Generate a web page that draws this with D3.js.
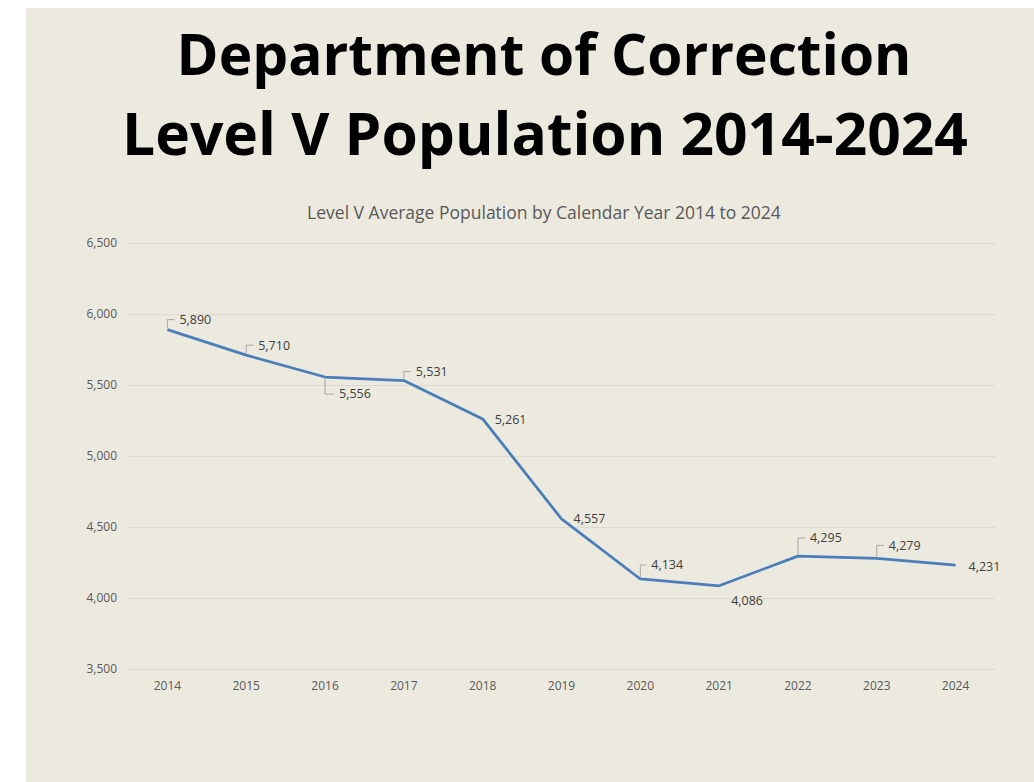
<!DOCTYPE html>
<html>
<head>
<meta charset="utf-8">
<script src="https://cdn.jsdelivr.net/npm/d3@7"></script>
<style>
  html, body { margin: 0; padding: 0; background: #fff; }
  svg { display: block; }
</style>
</head>
<body>
<svg width="1034" height="782"></svg>
<script>
// chart data
var years = ['2014', '2015', '2016', '2017', '2018', '2019', '2020', '2021', '2022', '2023', '2024'];
var population = [5890, 5710, 5556, 5531, 5261, 4557, 4134, 4086, 4295, 4279, 4231];
var yTicks = [3500, 4000, 4500, 5000, 5500, 6000, 6500];

// where each value label sits relative to its point, and whether it has a leader line
var labelPos = [
  {dx: 12, dy: -10, leader: 'up'},
  {dx: 12, dy: -10, leader: 'up'},
  {dx: 14, dy: 17, leader: 'down'},
  {dx: 12, dy: -9, leader: 'up'},
  {dx: 12, dy: 1, leader: null},
  {dx: 12, dy: 0, leader: null},
  {dx: 11, dy: -14, leader: 'up'},
  {dx: 12, dy: 15, leader: null},
  {dx: 12, dy: -18, leader: 'up'},
  {dx: 12, dy: -13, leader: 'up'},
  {dx: 13, dy: 1, leader: null}
];

var svg = d3.select('svg');
var fmt = d3.format(',');
var font = 'Open Sans, sans-serif';

svg.append('rect')
  .attr('x', 26)
  .attr('y', 8)
  .attr('width', 1034 - 26)
  .attr('height', 782 - 8)
  .attr('fill', '#ECE9DF');

// text sized to fit the width it has in the picture
function fitText(txt, cx, baseline, targetW, weight, color) {
  var t = svg.append('text')
    .attr('x', cx)
    .attr('y', baseline)
    .attr('text-anchor', 'middle')
    .attr('font-family', font)
    .attr('font-weight', weight)
    .attr('font-size', 60)
    .attr('fill', color)
    .text(txt);
  var w = t.node().getComputedTextLength();
  t.attr('font-size', 60 * targetW / w);
}
fitText('Department of Correction', 544, 75, 735, 700, '#000');
fitText('Level V Population 2014-2024', 545, 155, 846, 700, '#000');
fitText('Level V Average Population by Calendar Year 2014 to 2024', 544, 219, 474, 400, '#595959');

var x = d3.scaleBand()
  .domain(years)
  .range([128, 995]);

var y = d3.scaleLinear()
  .domain([3500, 6500])
  .range([669, 243]);

// gridlines
svg.append('g')
  .selectAll('line')
  .data(yTicks)
  .enter()
  .append('line')
  .attr('x1', 128)
  .attr('x2', 995)
  .attr('y1', function(d) { return Math.round(y(d)) + 0.5; })
  .attr('y2', function(d) { return Math.round(y(d)) + 0.5; })
  .attr('stroke', '#DCD9D0')
  .attr('stroke-width', 1);

var yAxis = svg.append('g')
  .attr('transform', 'translate(117,0)')
  .call(d3.axisLeft(y).tickValues(yTicks).tickFormat(fmt).tickSize(0).tickPadding(0));
yAxis.select('.domain').remove();
yAxis.selectAll('text')
  .attr('font-family', font)
  .attr('font-size', 12)
  .attr('fill', '#595959');

var xAxis = svg.append('g')
  .attr('transform', 'translate(0,686)')
  .call(d3.axisBottom(x).tickSize(0).tickPadding(0));
xAxis.select('.domain').remove();
xAxis.selectAll('text')
  .attr('y', 0)
  .attr('dy', '0.35em')
  .attr('font-family', font)
  .attr('font-size', 12)
  .attr('fill', '#595959');

var pts = years.map(function(yr, i) {
  return {year: yr, value: population[i], pos: labelPos[i]};
});

var lineFunc = d3.line()
  .x(function(d) { return x(d.year) + x.bandwidth() / 2; })
  .y(function(d) { return y(d.value); });

// leader lines
svg.append('g')
  .selectAll('path')
  .data(pts.filter(function(d) { return d.pos.leader; }))
  .enter()
  .append('path')
  .attr('d', function(d) {
    var px = x(d.year) + x.bandwidth() / 2;
    var py = y(d.value);
    var ly = py + d.pos.dy;
    var sy = d.pos.leader === 'up' ? py - 2 : py + 2;
    return 'M' + px + ',' + sy + 'L' + px + ',' + ly + 'L' + (px + d.pos.dx - 5) + ',' + ly;
  })
  .attr('fill', 'none')
  .attr('stroke', '#A6A6A6')
  .attr('stroke-width', 1);

svg.append('path')
  .attr('d', lineFunc(pts))
  .attr('fill', 'none')
  .attr('stroke', '#4A7EBB')
  .attr('stroke-width', 2.75)
  .attr('stroke-linejoin', 'round');

svg.append('g')
  .selectAll('text')
  .data(pts)
  .enter()
  .append('text')
  .attr('x', function(d) { return x(d.year) + x.bandwidth() / 2 + d.pos.dx; })
  .attr('y', function(d) { return y(d.value) + d.pos.dy; })
  .attr('dy', '0.35em')
  .attr('font-family', font)
  .attr('font-size', 12.5)
  .attr('fill', '#404040')
  .text(function(d) { return fmt(d.value); });
</script>
</body>
</html>
